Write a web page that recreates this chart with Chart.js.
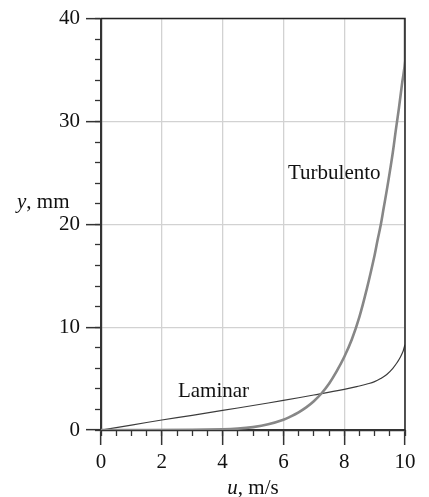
<!DOCTYPE html>
<html><head><meta charset="utf-8">
<script src="https://cdn.jsdelivr.net/npm/chart.js@4"></script>
<style>html,body{margin:0;padding:0;background:#fff}#wrap{width:429px;height:497px}</style>
</head><body><div id="wrap"><canvas id="c" width="429" height="497"></canvas></div>
<script>
// u (m/s) and y (mm) values
const turbU = [0, 3, 4, 4.5, 5, 5.5, 6, 6.25, 6.5, 6.75, 7, 7.25, 7.5, 7.75, 8, 8.25, 8.5, 8.75, 9, 9.1, 9.2, 9.3, 9.4, 9.5, 9.6, 9.7, 9.8, 9.9, 10, 10];
const turbY = [0, 0.01, 0.06, 0.13, 0.28, 0.55, 1.0, 1.33, 1.72, 2.2, 2.8, 3.55, 4.5, 5.7, 7.1, 8.8, 11.0, 13.8, 17.0, 18.5, 19.9, 21.6, 23.3, 25.1, 27.0, 29.2, 31.3, 33.6, 35.9, 40];
const lamU = [0, 1, 2, 3, 4, 5, 6, 7, 8, 8.5, 8.75, 9, 9.2, 9.4, 9.6, 9.75, 9.85, 9.93, 9.97, 10];
const lamY = [0, 0.48, 0.97, 1.43, 1.9, 2.38, 2.88, 3.4, 3.95, 4.28, 4.47, 4.7, 5.0, 5.4, 6.0, 6.6, 7.1, 7.6, 8.0, 8.3];
const xMajorTicks = [0, 2, 4, 6, 8, 10];
const yMajorTicks = [0, 10, 20, 30, 40];
const seriesLabels = ['Turbulento', 'Laminar'];
const xTitle = ['u', ', m/s'];
const yTitle = ['y', ', mm'];

const FONT = '"Liberation Serif", "DejaVu Serif", serif';
const FS = 21;
const pts = (xs, ys) => xs.map((x, i) => ({x: x, y: ys[i]}));

const deco = {
  id: 'deco',
  afterDraw(chart) {
    const ctx = chart.ctx, a = chart.chartArea;
    const xs = chart.scales.x, ys = chart.scales.y;
    ctx.save();
    ctx.strokeStyle = '#222'; ctx.lineWidth = 1.5;
    ctx.beginPath();
    ctx.moveTo(a.left, a.top); ctx.lineTo(a.right, a.top); ctx.lineTo(a.right, a.bottom);
    ctx.stroke();
    ctx.fillStyle = '#111';
    ctx.textBaseline = 'middle';
    ctx.font = FS + 'px ' + FONT;
    ctx.textAlign = 'left';
    ctx.fillText(seriesLabels[0], xs.getPixelForValue(6.15), ys.getPixelForValue(24.9));
    ctx.fillText(seriesLabels[1], xs.getPixelForValue(2.53), ys.getPixelForValue(3.7));
    function mixed(parts, x, y, align) {
      ctx.font = 'italic ' + FS + 'px ' + FONT;
      const w0 = ctx.measureText(parts[0]).width;
      ctx.font = FS + 'px ' + FONT;
      const w1 = ctx.measureText(parts[1]).width;
      const x0 = align === 'center' ? x - (w0 + w1) / 2 : x;
      ctx.textAlign = 'left';
      ctx.font = 'italic ' + FS + 'px ' + FONT;
      ctx.fillText(parts[0], x0, y);
      ctx.font = FS + 'px ' + FONT;
      ctx.fillText(parts[1], x0 + w0, y);
    }
    mixed(xTitle, (a.left + a.right) / 2, 488, 'center');
    mixed(yTitle, 17, 202, 'left');
    ctx.restore();
  }
};

new Chart(document.getElementById('c'), {
  type: 'scatter',
  data: {
    datasets: [
      {label: seriesLabels[0], data: pts(turbU, turbY), showLine: true, borderColor: '#878787', borderWidth: 2.6, pointRadius: 0, tension: 0.4, fill: false},
      {label: seriesLabels[1], data: pts(lamU, lamY), showLine: true, borderColor: '#3c3c3c', borderWidth: 1.2, pointRadius: 0, tension: 0.4, fill: false}
    ]
  },
  options: {
    responsive: false,
    animation: false,
    devicePixelRatio: 1,
    layout: {padding: {top: 18, right: 24, left: 0, bottom: 0}},
    plugins: {legend: {display: false}, tooltip: {enabled: false}},
    scales: {
      xm: {
        type: 'linear', position: 'bottom', weight: 0, min: 0, max: 10,
        ticks: {stepSize: 0.5, display: false},
        grid: {drawOnChartArea: false, tickLength: 6, tickColor: '#333', tickWidth: 1.3},
        border: {display: false},
        afterFit(s) { s.height = 0; }
      },
      x: {
        type: 'linear', position: 'bottom', weight: 1, min: 0, max: 10,
        afterBuildTicks(s) { s.ticks = xMajorTicks.map(v => ({value: v})); },
        ticks: {color: '#111', font: {family: FONT, size: FS}, padding: 5, maxRotation: 0},
        grid: {color: '#d2d2d2', lineWidth: 1.3, tickLength: 15, tickColor: '#333', tickWidth: 1.5},
        border: {display: true, color: '#333', width: 2.2},
        afterFit(s) { s.height = 67; }
      },
      ym: {
        type: 'linear', position: 'left', weight: 0, min: 0, max: 40,
        ticks: {stepSize: 2, display: false},
        grid: {drawOnChartArea: false, tickLength: 6, tickColor: '#333', tickWidth: 1.3},
        border: {display: false},
        afterFit(s) { s.width = 0; }
      },
      y: {
        type: 'linear', position: 'left', weight: 1, min: 0, max: 40,
        afterBuildTicks(s) { s.ticks = yMajorTicks.map(v => ({value: v})); },
        ticks: {color: '#111', font: {family: FONT, size: FS}, padding: 6},
        grid: {color: '#d2d2d2', lineWidth: 1.3, tickLength: 15, tickColor: '#333', tickWidth: 1.5},
        border: {display: true, color: '#333', width: 2.2},
        afterFit(s) { s.width = 101; }
      }
    }
  },
  plugins: [deco]
});
</script>
</body></html>
